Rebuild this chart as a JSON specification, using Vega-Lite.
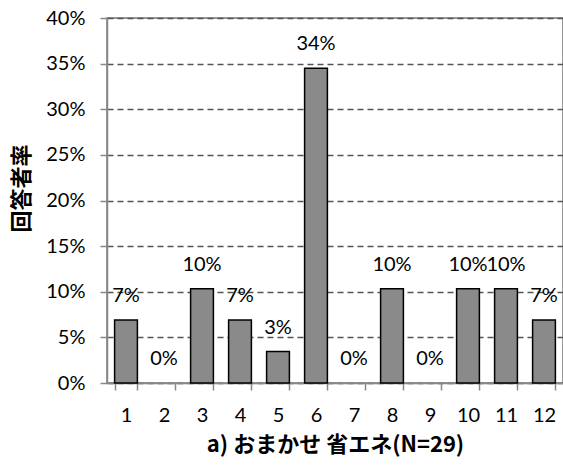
{
  "$schema": "https://vega.github.io/schema/vega-lite/v6.json",
  "width": 456,
  "height": 365,
  "autosize": {"type": "none"},
  "padding": {"left": 107, "top": 18, "right": 0, "bottom": 87},
  "background": "white",
  "config": {
    "font": "Lato",
    "view": {"stroke": "#777777", "strokeWidth": 1.5}
  },
  "data": {
    "values": [
      {"x": "1", "rate": 0.069},
      {"x": "2", "rate": 0.0},
      {"x": "3", "rate": 0.1034},
      {"x": "4", "rate": 0.069},
      {"x": "5", "rate": 0.0345},
      {"x": "6", "rate": 0.3448},
      {"x": "7", "rate": 0.0},
      {"x": "8", "rate": 0.1034},
      {"x": "9", "rate": 0.0},
      {"x": "10", "rate": 0.1034},
      {"x": "11", "rate": 0.1034},
      {"x": "12", "rate": 0.069}
    ]
  },
  "encoding": {
    "x": {
      "field": "x",
      "type": "ordinal",
      "sort": null,
      "scale": {"domain": ["1","2","3","4","5","6","7","8","9","10","11","12"], "paddingInner": 0.4, "paddingOuter": 0.2},
      "axis": {
        "title": "a) おまかせ 省エネ(N=29)",
        "titleFont": "Noto Sans CJK JP",
        "titleFontSize": 22,
        "titleFontWeight": "bold",
        "titleColor": "#000000",
        "titlePadding": 9,
        "labelAngle": 0,
        "labelFontSize": 20,
        "labelColor": "#000000",
        "labelPadding": 15,
        "tickBand": "extent",
        "tickSize": 7,
        "tickColor": "#888888",
        "tickWidth": 1.5,
        "domainColor": "#888888",
        "domainWidth": 1.5
      }
    },
    "y": {
      "field": "rate",
      "type": "quantitative",
      "scale": {"domain": [0, 0.4]},
      "axis": {
        "title": "回答者率",
        "titleFont": "Noto Sans CJK JP",
        "titleFontSize": 22,
        "titleFontWeight": "bold",
        "titleColor": "#000000",
        "titlePadding": 12,
        "titleY": 170,
        "format": ".0%",
        "values": [0, 0.05, 0.1, 0.15, 0.2, 0.25, 0.3, 0.35, 0.4],
        "labelFontSize": 20,
        "labelColor": "#000000",
        "labelPadding": 15,
        "tickSize": 7,
        "tickColor": "#888888",
        "tickWidth": 1.5,
        "domainColor": "#888888",
        "domainWidth": 1.5,
        "grid": true,
        "gridColor": "#555555",
        "gridDash": [6, 4],
        "gridWidth": 1.5
      }
    }
  },
  "layer": [
    {
      "transform": [{"filter": "datum.rate > 0"}],
      "mark": {"type": "bar", "fill": "#8a8a8a", "stroke": "#000000", "strokeWidth": 1.5}
    },
    {
      "mark": {"type": "text", "dy": -24, "fontSize": 20, "color": "#000000", "baseline": "middle"},
      "encoding": {
        "text": {"field": "rate", "type": "quantitative", "format": ".0%"}
      }
    }
  ]
}
